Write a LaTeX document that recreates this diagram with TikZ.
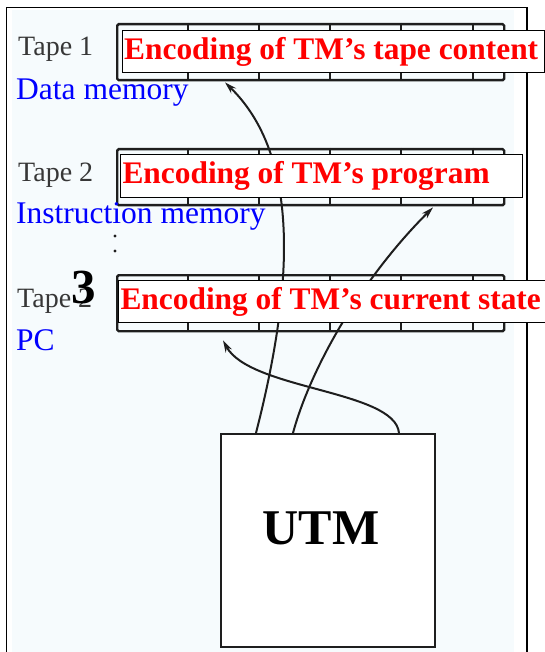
\documentclass[tikz,border=0pt]{standalone}
\usepackage{fontspec}
\setmainfont{Liberation Serif}
\usetikzlibrary{arrows.meta}
\definecolor{ink}{RGB}{30,30,30}
\definecolor{scan}{RGB}{55,55,55}
\definecolor{paper}{RGB}{246,251,253}
\definecolor{lblue}{RGB}{0,0,255}
\definecolor{lred}{RGB}{255,0,0}
\begin{document}
\begin{tikzpicture}[x=1pt,y=-1pt,
  tapebox/.style={draw=ink, line width=2.4pt, rounded corners=1.5pt, minimum width=387pt, minimum height=56pt, anchor=north west, inner sep=0pt},
  cellline/.style={draw=ink, line width=2pt},
  lbl/.style={draw=black, line width=1pt, fill=white, anchor=north west, inner xsep=2pt, inner ysep=0pt, minimum height=42.4pt, text=lred, font=\bfseries\fontsize{31.4}{31.4}\selectfont},
  tapelbl/.style={anchor=base west, inner sep=0pt, text=scan, font=\fontsize{28}{28}\selectfont},
  memlbl/.style={anchor=base west, inner sep=0pt, text=lblue, font=\fontsize{31.5}{31.5}\selectfont},
  link/.style={draw=ink, line width=2pt, -{Stealth[length=12pt,width=7pt]}},
  dotmark/.style={fill=ink, circle, inner sep=0pt, minimum size=3.2pt}
]
\useasboundingbox (0,0) rectangle (545,652);
% paper and frame
\fill[paper] (12,10) rectangle (514,652);
\draw[line width=1.4pt] (6.7,700) -- (6.7,7.3) -- (527,7.3) -- (527,700);
% tapes
\node[tapebox] (t1) at (116,23) {};
\node[tapebox] (t2) at (116,148) {};
\node[tapebox] (t3) at (116,274) {};
\foreach \t in {t1,t2,t3}{
  \foreach \dx in {72,143.3,214.3,284.7,357}{
    \draw[cellline] ([xshift=\dx pt]\t.north west) -- ([xshift=\dx pt]\t.south west);
  }
}
% left labels
\node[tapelbl] (tl1) at (18,56) {Tape 1};
\node[tapelbl] (tl2) at (18,182) {Tape 2};
\node[tapelbl] (tl3) at (17,307) {Tape 2};
\node[memlbl] (m1) at (16,100) {Data memory};
\node[memlbl] (m2) at (16,223) {Instruction memory};
\node[memlbl] (m3) at (16,350) {PC};
\node[dotmark] (d1) at (115,236) {};
\node[dotmark] (d2) at (115,251) {};
% UTM
\node[draw=ink, line width=2.2pt, fill=white, minimum width=214pt, minimum height=213pt, anchor=north west, inner sep=0pt] (utm) at (220,433) {};
\node[anchor=base, inner sep=0pt, font=\bfseries\fontsize{50}{50}\selectfont] (utmtext) at (321,544) {UTM};
% connectors
\draw[link] ([xshift=36pt]utm.north west) .. controls (290,300) and (305,160) .. ([xshift=109pt,yshift=-1pt]t1.south west);
\draw[link] ([xshift=73pt]utm.north west) .. controls (310,370) and (360,280) .. ([xshift=317pt,yshift=-1pt]t2.south west);
\draw[link] ([xshift=179pt]utm.north west) .. controls (395,390) and (250,390) .. ([xshift=107pt,yshift=-8pt]t3.south west);
% red labels
\node[lbl] (l1) at (121.7,29.9) {\makebox[418pt][l]{Encoding of TM’s tape content}};
\node[lbl] (l2) at (120,154.3) {\makebox[398pt][l]{Encoding of TM’s program}};
\node[lbl] (l3) at (118,280) {\makebox[427pt][l]{Encoding of TM’s current state}};
% tape number
\node[anchor=base west, inner sep=0pt, font=\bfseries\fontsize{49}{49}\selectfont] (three) at (71,303) {3};
\end{tikzpicture}
\end{document}
